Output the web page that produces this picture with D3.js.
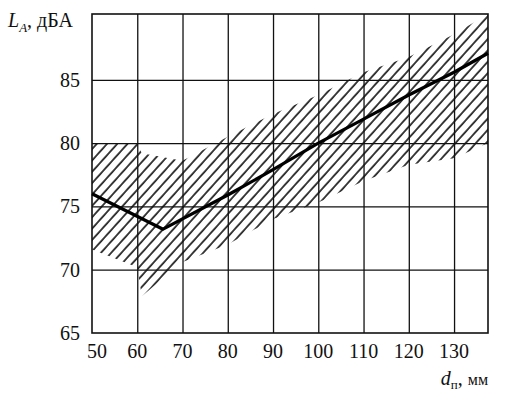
<!DOCTYPE html>
<html>
<head>
<meta charset="utf-8">
<script src="https://cdn.jsdelivr.net/npm/d3@7"></script>
<style>
  body { margin: 0; background: #fff; }
  svg { display: block; }
  text { font-family: "Liberation Serif", "DejaVu Serif", serif; fill: #111; }
</style>
</head>
<body>
<div class="chart"></div>
<script>
// tick labels
var xTicks = [50, 60, 70, 80, 90, 100, 110, 120, 130];
var yTicks = [65, 70, 75, 80, 85];

// main curve L_A(d)
var lineX = [50, 65.7, 80, 90, 100, 110, 120, 130, 137.5];
var lineY = [76, 73.2, 75.9, 77.9, 80, 81.9, 83.8, 85.6, 87.1];

// hatched scatter band
var bandX =     [50,   60,   61,   70,   80,   90,   100,  110,  120,  130,  137.5];
var bandUpper = [80,   80,   79.2, 78.6, 80.5, 82.3, 83.8, 85.6, 86.8, 88.6, 90.2];
var bandLower = [71.6, 70.2, 67.9, 70.6, 72,   74,   75.3, 77,   78.3, 78.8, 80];

(function(){

  var width = 518,
    height = 394,
    margin = { top: 14, right: 30, bottom: 61, left: 92 };

  var svg = d3.select('.chart')
    .append('svg')
    .attr('width', width)
    .attr('height', height);

  var x = d3.scaleLinear()
    .domain([50, 137.5])
    .range([margin.left, width - margin.right]);

  var y = d3.scaleLinear()
    .domain([65, 90.2])
    .range([height - margin.bottom, margin.top]);

  // hatch pattern
  svg.append('defs').append('pattern')
    .attr('id', 'hatch')
    .attr('patternUnits', 'userSpaceOnUse')
    .attr('width', 7.6)
    .attr('height', 10)
    .attr('patternTransform', 'rotate(42)')
    .append('line')
    .attr('x1', 1).attr('y1', 0)
    .attr('x2', 1).attr('y2', 10)
    .attr('stroke', '#000')
    .attr('stroke-width', 1.5);

  var band = bandX.map(function(d, i){
    return { x: d, hi: bandUpper[i], lo: bandLower[i] };
  });

  svg.append('path')
    .datum(band)
    .attr('fill', 'url(#hatch)')
    .attr('d', d3.area()
      .x(function(d){ return x(d.x); })
      .y0(function(d){ return y(d.lo); })
      .y1(function(d){ return y(d.hi); }));

  // grid
  svg.append('g')
    .attr('transform', 'translate(0,' + (height - margin.bottom) + ')')
    .call(d3.axisBottom(x).tickValues(xTicks.slice(1))
      .tickSize(-(height - margin.top - margin.bottom)).tickFormat(''))
    .call(function(g){ g.select('.domain').remove(); })
    .selectAll('line').attr('stroke', '#111').attr('stroke-width', 1.3);

  svg.append('g')
    .attr('transform', 'translate(' + margin.left + ',0)')
    .call(d3.axisLeft(y).tickValues(yTicks.slice(1))
      .tickSize(-(width - margin.left - margin.right)).tickFormat(''))
    .call(function(g){ g.select('.domain').remove(); })
    .selectAll('line').attr('stroke', '#111').attr('stroke-width', 1.3);

  // frame
  svg.append('rect')
    .attr('x', margin.left)
    .attr('y', margin.top)
    .attr('width', width - margin.left - margin.right)
    .attr('height', height - margin.top - margin.bottom)
    .attr('fill', 'none')
    .attr('stroke', '#111')
    .attr('stroke-width', 1.6);

  // tick labels
  svg.append('g').selectAll('text')
    .data(xTicks)
    .enter().append('text')
    .attr('x', function(d){ return x(d) + (d === 50 ? 5 : 0); })
    .attr('y', 358)
    .attr('text-anchor', 'middle')
    .attr('font-size', 20)
    .text(function(d){ return d; });

  svg.append('g').selectAll('text')
    .data(yTicks)
    .enter().append('text')
    .attr('x', 80)
    .attr('y', function(d){ return y(d) + 7; })
    .attr('text-anchor', 'end')
    .attr('font-size', 20)
    .text(function(d){ return d; });

  // curve
  svg.append('path')
    .datum(lineX.map(function(d, i){ return [d, lineY[i]]; }))
    .attr('fill', 'none')
    .attr('stroke', '#000')
    .attr('stroke-width', 3.2)
    .attr('stroke-linejoin', 'round')
    .attr('d', d3.line()
      .x(function(d){ return x(d[0]); })
      .y(function(d){ return y(d[1]); }));

  // axis titles
  var yTitle = svg.append('text')
    .attr('x', 8)
    .attr('y', 27)
    .attr('font-size', 20);
  yTitle.append('tspan').attr('font-style', 'italic').text('L');
  yTitle.append('tspan').attr('font-style', 'italic').attr('font-size', 13).attr('dy', 5).text('A');
  yTitle.append('tspan').attr('dy', -5).text(', дБА');

  var xTitle = svg.append('text')
    .attr('x', 488)
    .attr('y', 385)
    .attr('text-anchor', 'end')
    .attr('font-size', 20);
  xTitle.append('tspan').attr('font-style', 'italic').text('d');
  xTitle.append('tspan').attr('font-size', 13).attr('dy', 4).text('п');
  xTitle.append('tspan').attr('dy', -4).text(', ');
  xTitle.append('tspan').attr('font-size', 16).text('мм');

}());
</script>
</body>
</html>
